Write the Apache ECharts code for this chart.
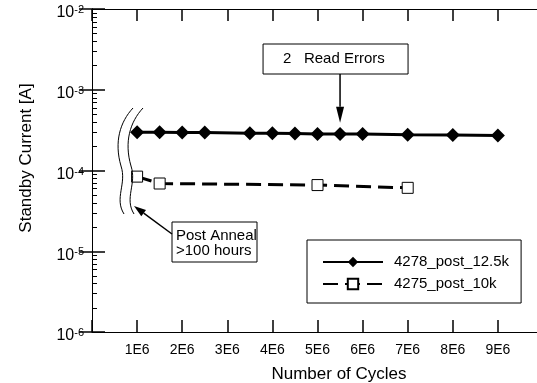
<!DOCTYPE html>
<html>
<head>
<meta charset="utf-8">
<script src="https://cdn.jsdelivr.net/npm/echarts@6/dist/echarts.min.js"></script>
<style>
  html, body { margin: 0; padding: 0; background: #fff; }
  #container { width: 537px; height: 383px; }
</style>
</head>
<body>
<div id="container"></div>
<script>
// data
var cycles4278 = [1.0e6, 1.5e6, 2.0e6, 2.5e6, 3.5e6, 4.0e6, 4.5e6, 5.0e6, 5.5e6, 6.0e6, 7.0e6, 8.0e6, 9.0e6];
var current4278 = [2.98e-4, 2.97e-4, 2.96e-4, 2.96e-4, 2.90e-4, 2.89e-4, 2.88e-4, 2.84e-4, 2.84e-4, 2.83e-4, 2.77e-4, 2.76e-4, 2.72e-4];
var cycles4275 = [1.0e6, 1.5e6, 5.0e6, 7.0e6];
var current4275 = [8.4e-5, 6.9e-5, 6.6e-5, 6.1e-5];
var seriesNames = ['4278_post_12.5k', '4275_post_10k'];
var xTickLabels = ['', '1E6', '2E6', '3E6', '4E6', '5E6', '6E6', '7E6', '8E6', '9E6', ''];
var decades = [-6, -5, -4, -3, -2];

var FONT = 'Liberation Sans';

function pairs(xs, ys) {
  var res = [];
  for (var i = 0; i < xs.length; i++) res.push([xs[i], ys[i]]);
  return res;
}

var chart = echarts.init(document.getElementById('container'));

var option = {
  backgroundColor: '#fff',
  animation: false,
  grid: { left: 92, top: 9, width: 451, height: 323, outerBoundsMode: 'none', containLabel: false },
  legend: {
    left: 307, top: 240,
    orient: 'vertical',
    data: seriesNames,
    itemWidth: 60, itemHeight: 13, itemGap: 6,
    padding: [14, 12, 11, 15],
    borderColor: '#000', borderWidth: 1,
    backgroundColor: '#fff',
    textStyle: { fontFamily: FONT, fontSize: 15, color: '#000', lineHeight: 16, padding: [0, 0, 0, 6] }
  },
  xAxis: [{
    type: 'value', min: 0, max: 1e7, interval: 1e6,
    position: 'bottom',
    name: 'Number of Cycles', nameLocation: 'middle', nameGap: 34,
    nameTextStyle: { fontFamily: FONT, fontSize: 17, color: '#000', padding: [0, 0, 0, 43] },
    axisLine: { lineStyle: { color: '#000', width: 1 } },
    axisTick: { inside: true, length: 12, lineStyle: { color: '#000', width: 1.5 } },
    axisLabel: {
      fontFamily: FONT, fontSize: 14, color: '#000', margin: 11,
      formatter: function (v) { return xTickLabels[Math.round(v / 1e6)] || ''; }
    },
    splitLine: { show: false }
  }, {
    type: 'value', min: 0, max: 1e7, interval: 1e6,
    position: 'top',
    axisLine: { lineStyle: { color: '#000', width: 1 } },
    axisTick: { inside: true, length: 12, lineStyle: { color: '#000', width: 1.5 } },
    axisLabel: { show: false },
    splitLine: { show: false }
  }],
  yAxis: [{
    type: 'log', logBase: 10, min: 1e-6, max: 1e-2,
    position: 'left',
    name: 'Standby Current [A]', nameLocation: 'middle', nameGap: 57,
    nameTextStyle: { fontFamily: FONT, fontSize: 17, color: '#000', padding: [0, 0, 0, 25] },
    axisLine: { show: true, lineStyle: { color: '#000', width: 1 } },
    axisTick: { inside: true, length: 13, lineStyle: { color: '#000', width: 1.5 } },
    axisLabel: {
      margin: 8,
      padding: [8, 0, 0, 0],
      formatter: function (v) {
        var e = Math.round(Math.log10(v));
        return '{b|10}{s|' + e + '}';
      },
      rich: {
        b: { fontFamily: FONT, fontSize: 16, color: '#000', lineHeight: 17 },
        s: { fontFamily: FONT, fontSize: 11, color: '#000', verticalAlign: 'top', lineHeight: 12 }
      }
    },
    splitLine: { show: false }
  }, {
    type: 'log', logBase: 10, min: 1e-6, max: 1e-2,
    position: 'right',
    axisLine: { show: true, lineStyle: { color: '#000', width: 1 } },
    axisTick: { show: true, inside: true, length: 13, lineStyle: { color: '#000', width: 1.5 } },
    axisLabel: { show: false },
    splitLine: { show: false }
  }],
  series: [{
    name: seriesNames[0],
    type: 'line',
    xAxisIndex: 0, yAxisIndex: 0,
    data: pairs(cycles4278, current4278),
    symbol: 'diamond', symbolSize: 14,
    lineStyle: { color: '#000', width: 3 },
    itemStyle: { color: '#000' },
    z: 3
  }, {
    name: seriesNames[1],
    type: 'line',
    xAxisIndex: 0, yAxisIndex: 0,
    data: pairs(cycles4275, current4275),
    symbol: 'rect', symbolSize: 11,
    lineStyle: { color: '#000', width: 3, type: [15, 7] },
    itemStyle: { color: '#fff', borderColor: '#000', borderWidth: 1 },
    z: 4
  }]
};

chart.setOption(option);

var graphics = [];

// minor ticks of the log axis (2..9 in each decade), placed through the axis scale
var axisX = chart.convertToPixel({ xAxisIndex: 0 }, 0);
for (var d = 0; d < decades.length - 1; d++) {
  for (var k = 2; k <= 9; k++) {
    var py = Math.round(chart.convertToPixel({ yAxisIndex: 0 }, k * Math.pow(10, decades[d]))) + 0.5;
    graphics.push({
      type: 'line', shape: { x1: axisX, y1: py, x2: axisX + 5, y2: py },
      style: { stroke: '#000', lineWidth: 1 }, z: 9, silent: true
    });
  }
}

// annotations
function arrow(x1, y1, x2, y2, len, wid) {
  var ang = Math.atan2(y2 - y1, x2 - x1);
  var bx = x2 - len * Math.cos(ang), by = y2 - len * Math.sin(ang);
  var px = -Math.sin(ang) * wid / 2, py = Math.cos(ang) * wid / 2;
  return [{
    type: 'line', shape: { x1: x1, y1: y1, x2: bx, y2: by },
    style: { stroke: '#000', lineWidth: 1.5 }, z: 10
  }, {
    type: 'polygon', shape: { points: [[x2, y2], [bx + px, by + py], [bx - px, by - py]] },
    style: { fill: '#000' }, z: 10
  }];
}

var tip = chart.convertToPixel({ seriesIndex: 0 }, [5.5e6, 3.9e-4]);
var ax = tip[0];

// "2 Read Errors" box and arrow
graphics.push({
  type: 'rect', shape: { x: ax - 77, y: 44, width: 145, height: 30 },
  style: { fill: '#fff', stroke: '#000', lineWidth: 1 }, z: 10
});
graphics.push({
  type: 'text', x: ax - 57, y: 59,
  style: { text: '2   Read Errors', fontFamily: FONT, fontSize: 15, fill: '#000', verticalAlign: 'middle' },
  z: 11
});
graphics = graphics.concat(arrow(ax, 74, ax, tip[1], 16, 8));

// "Post Anneal" box and arrow
graphics.push({
  type: 'rect', shape: { x: 172, y: 222, width: 85, height: 40 },
  style: { fill: '#fff', stroke: '#000', lineWidth: 1 }, z: 10
});
graphics.push({
  type: 'text', x: 176, y: 243,
  style: { text: 'Post Anneal\n>100 hours', fontFamily: FONT, fontSize: 15, lineHeight: 15, fill: '#000', verticalAlign: 'middle' },
  z: 11
});
graphics = graphics.concat(arrow(172, 234, 134, 206, 12, 8));

// axis-break wavy lines
[0, 10].forEach(function (dx) {
  graphics.push({
    type: 'bezierCurve',
    shape: { x1: 133 + dx, y1: 108, cpx1: 120 + dx, cpy1: 122, cpx2: 114 + dx, cpy2: 142, x2: 121 + dx, y2: 166 },
    style: { stroke: '#000', lineWidth: 1, fill: null }, z: 9
  });
  graphics.push({
    type: 'bezierCurve',
    shape: { x1: 121 + dx, y1: 166, cpx1: 127 + dx, cpy1: 184, cpx2: 114 + dx, cpy2: 198, x2: 124 + dx, y2: 214 },
    style: { stroke: '#000', lineWidth: 1, fill: null }, z: 9
  });
});

chart.setOption({ graphic: graphics });

window.addEventListener('resize', function () {
  chart.resize();
});
</script>
</body>
</html>
